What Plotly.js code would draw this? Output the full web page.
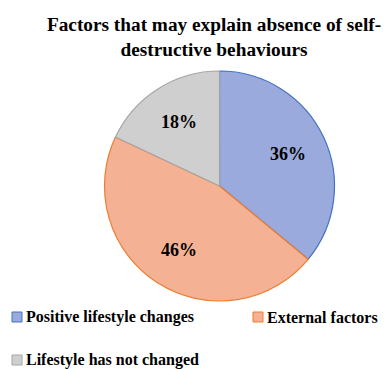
<!DOCTYPE html>
<html>
<head>
<meta charset="utf-8">
<script src="https://cdn.plot.ly/plotly-3.0.1.min.js"></script>
<style>
  html, body { margin: 0; padding: 0; background: #fff; }
  #chart { width: 388px; height: 369px; }
</style>
</head>
<body>
<div id="chart"></div>
<script>
// Share of respondents by factor (percent)
const categories = ['Positive lifestyle changes', 'External factors', 'Lifestyle has not changed'];
const shares = [36, 46, 18];
const fillColors = ['#9aaadc', '#f4b194', '#cfcfcf'];
const edgeColors = ['#4472c4', '#ed7d31', '#a5a5a5'];

const W = 388, H = 369;
const serif = 'Liberation Serif';

// pie geometry in pixels (centre and radius)
const cx = 219.5, cy = 186, r = 115;

const pie = {
  type: 'pie',
  labels: categories,
  values: shares,
  sort: false,
  direction: 'clockwise',
  rotation: 0,
  marker: { colors: fillColors, line: { color: edgeColors, width: 1.2 } },
  textinfo: 'none',
  hoverinfo: 'label+percent',
  showlegend: false,
  domain: {
    x: [(cx - r) / W, (cx + r) / W],
    y: [(H - cy - r) / H, (H - cy + r) / H]
  }
};

const shapes = [];
const annotations = [];

// percentage labels placed at each slice's mid-angle (clockwise from 12 o'clock)
const total = shares.reduce((a, b) => a + b, 0);
let cum = 0;
shares.forEach((v) => {
  const mid = (cum + v / 2) / total * 2 * Math.PI;
  cum += v;
  const px = cx + 0.66 * r * Math.sin(mid);
  const py = cy - 0.66 * r * Math.cos(mid);
  annotations.push({
    xref: 'paper', yref: 'paper',
    x: px / W, y: (H - py) / H,
    xanchor: 'center', yanchor: 'middle',
    text: v + '%', showarrow: false,
    font: { family: serif, size: 18, color: '#000', weight: 'bold' }
  });
});

// legend entries: [left px of swatch, centre y px]
const legendPos = [[12, 317], [253, 317], [12, 360]];
categories.forEach((name, i) => {
  const [lx, ly] = legendPos[i];
  shapes.push({
    type: 'rect', xref: 'paper', yref: 'paper',
    x0: lx / W, x1: (lx + 10) / W,
    y0: (H - ly - 5) / H, y1: (H - ly + 5) / H,
    fillcolor: fillColors[i],
    line: { color: edgeColors[i], width: 1 }
  });
  annotations.push({
    xref: 'paper', yref: 'paper',
    x: (lx + 12) / W, y: (H - ly) / H,
    xanchor: 'left', yanchor: 'middle',
    text: name,
    showarrow: false,
    font: { family: serif, size: 16, color: '#000', weight: 'bold' }
  });
});

const layout = {
  width: W, height: H,
  margin: { l: 0, r: 0, t: 0, b: 0 },
  paper_bgcolor: '#fff',
  title: {
    text: 'Factors that may explain absence of self-<br>destructive behaviours',
    font: { family: serif, size: 19.3, color: '#000', weight: 'bold' },
    xref: 'container', yref: 'container',
    x: 214 / W, xanchor: 'center',
    y: 1 - 31 / H, yanchor: 'top'
  },
  shapes: shapes,
  annotations: annotations
};

Plotly.newPlot('chart', [pie], layout, { displayModeBar: false, staticPlot: true });
</script>
</body>
</html>
